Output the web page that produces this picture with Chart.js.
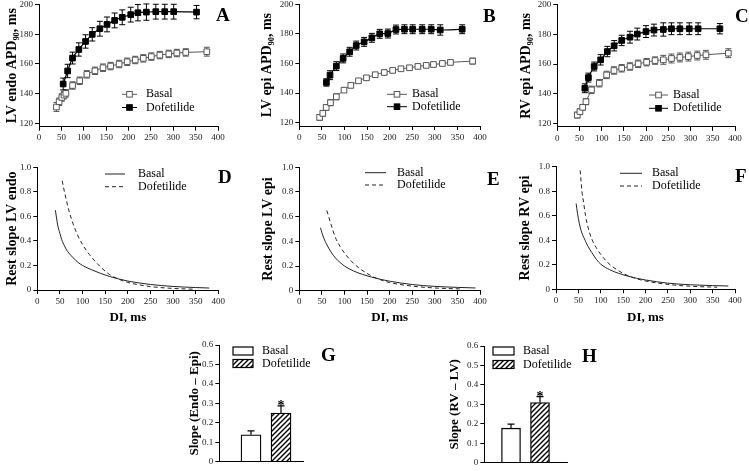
<!DOCTYPE html>
<html><head><meta charset="utf-8">
<script src="https://cdn.jsdelivr.net/npm/chart.js@4.4.1/dist/chart.umd.min.js"></script>
<style>
html,body{margin:0;padding:0;background:#fff}
body{width:749px;height:471px;position:relative;overflow:hidden}
canvas{position:absolute}
</style></head>
<body>
<canvas id="cA"></canvas><canvas id="cB"></canvas><canvas id="cC"></canvas>
<canvas id="cD"></canvas><canvas id="cE"></canvas><canvas id="cF"></canvas>
<canvas id="cG"></canvas><canvas id="cH"></canvas>
<script>
// ================= DATA =================
const seriesNames = ['Basal', 'Dofetilide'];
const diTicks    = [0, 50, 100, 150, 200, 250, 300, 350, 400];
const apdTicks   = [120, 140, 160, 180, 200];
const slopeTicks = [0, 0.2, 0.4, 0.6, 0.8, 1.0];
const barTicks   = [0, 0.1, 0.2, 0.3, 0.4, 0.5, 0.6];

// Panel A: LV endo APD90 (ms) vs DI (ms)
const A_basal_di  = [39,45,51,56,60,75,91,107,125,143,160,179,197,215,233,251,270,290,308,328,375];
const A_basal_apd = [131,134.5,137.4,139,140.2,145.5,148.7,153,155.4,157.5,158.6,160,161.5,162.7,163.8,165,166,166.8,167.4,167.8,168.3];
const A_basal_sem = [3,2.5,2.5,2.5,2.5,2.5,2.5,2.5,2.5,2.5,2.5,2.5,2.5,2.5,2.5,2.5,2.5,2.5,2.5,2.5,3];
const A_dof_di  = [54,64,75,89,104,119,136,152,169,186,205,221,240,261,281,301,352];
const A_dof_apd = [146.5,155.3,164,169.8,175.2,180,183.8,186.7,189.4,191.5,193.3,194.6,195,195.3,195.3,195.3,195];
const A_dof_sem = [4,4.5,4,4.5,4.5,4.5,5,5,5,5,5,5.5,5.5,5,5,5,4.5];

// Panel B: LV epi
const B_basal_di  = [45,52,59.5,69,82,99,114,131,148.7,168,188,206.7,225,244,262.5,281,297,316.7,334.6,383.6];
const B_basal_apd = [123.6,126.3,130.3,133.5,137.5,142,145.2,148.3,150.3,152.4,153.9,155.3,156.4,157.1,158,158.7,159.3,160,160.7,161.6];
const B_basal_sem = [2,2,2,2,2,1.5,1.5,1.5,1.5,1.5,1.5,1.5,1.5,1.5,1.5,1.5,1.5,1.5,1.5,2];
const B_dof_di  = [60,68,82,97,111.5,126,143.5,160.6,178,196,214,232.7,251,272,292,312,360.6];
const B_dof_apd = [147.2,152.1,158.2,163.4,167.9,172.1,174.6,177.3,180,180.2,182.9,183.1,183.1,183.1,183.1,182.6,183.1];
const B_dof_sem = [2.5,3,3,3,3,3,3,3,3,3,3,3,3,3,3,3.5,3];

// Panel C: RV epi
const C_basal_di  = [45,51,57,64.5,77,94.6,111,127.6,145,163.6,182,201,220,238.6,257,276,295,315,334.6,385];
const C_basal_apd = [125.6,127.9,130.8,134.6,142.6,147.1,152.7,155.7,157.2,158.4,160.2,161.3,162.4,162.9,163.8,164.5,165.1,165.8,166.3,167.4];
const C_basal_sem = [2,2,2,2,2.5,2.5,2.5,2.5,2.5,2.5,2.5,2.5,2.5,3,3,3,3,3,3,3];
const C_dof_di  = [62,70,83,97.6,112.6,128,145,163.6,180,199.6,217.6,238.6,257,276,297,317,366];
const C_dof_apd = [143.7,150.9,158.4,162.9,168.5,172.4,176,178.2,180.3,182,183,183.4,183.9,183.9,183.9,183.9,183.9];
const C_dof_sem = [3,3,3,3.5,3.5,3.5,3.5,4,4,4,4,4.5,4,4,4,4,3.5];

// Panel D: restitution slope LV endo
const D_basal_di = [40,45,50,54,60,65,70,80,90,100,120,140,160,180,200,250,300,350,380];
const D_basal_s  = [0.65,0.53,0.46,0.41,0.36,0.325,0.30,0.26,0.225,0.20,0.165,0.135,0.11,0.09,0.073,0.045,0.029,0.02,0.016];
const D_dof_di = [55,60,65,70,80,90,100,115,130,145,160,180,200,250,300,350];
const D_dof_s  = [0.89,0.80,0.72,0.645,0.53,0.44,0.37,0.29,0.225,0.17,0.125,0.088,0.062,0.028,0.013,0.006];

// Panel E: restitution slope LV epi
const E_basal_di = [47,50,55,60,70,80,90,100,120,140,160,180,200,250,300,350,390];
const E_basal_s  = [0.51,0.47,0.42,0.38,0.315,0.265,0.23,0.2,0.16,0.132,0.11,0.092,0.077,0.05,0.035,0.027,0.022];
const E_dof_di = [61,65,70,80,90,100,115,130,150,165,180,200,250,300,360];
const E_dof_s  = [0.65,0.6,0.54,0.43,0.36,0.305,0.24,0.19,0.14,0.11,0.088,0.066,0.037,0.022,0.014];

// Panel F: restitution slope RV epi
const F_basal_di = [45,48,52,56,60,65,70,80,90,100,120,140,160,180,200,250,300,350,385];
const F_basal_s  = [0.70,0.62,0.54,0.48,0.44,0.40,0.36,0.30,0.245,0.205,0.16,0.13,0.108,0.09,0.076,0.05,0.037,0.03,0.027];
const F_dof_di = [54,56,58,62,66,72,80,90,100,115,130,150,175,200,250,300,360];
const F_dof_s  = [0.97,0.88,0.80,0.70,0.60,0.50,0.41,0.34,0.285,0.22,0.175,0.13,0.092,0.068,0.04,0.025,0.017];

// Panel G: slope (Endo - Epi); Panel H: slope (RV - LV)
const G_mean = [0.138, 0.25];
const G_sem  = [0.02, 0.037];
const G_sig  = ['', '*'];
const H_mean = [0.177, 0.309];
const H_sem  = [0.021, 0.03];
const H_sig  = ['', '*'];

// ================= HELPERS =================
const FONT = "'Liberation Serif','Times New Roman',Times,serif";
const pts = (xs, ys) => xs.map((x, i) => ({x: x, y: ys[i]}));

function hatchPattern() {
  const p = document.createElement('canvas'); p.width = 5; p.height = 5;
  const c = p.getContext('2d');
  c.fillStyle = '#fff'; c.fillRect(0, 0, 5, 5);
  c.strokeStyle = '#000'; c.lineWidth = 1.4; c.beginPath();
  c.moveTo(0, 5); c.lineTo(5, 0); c.moveTo(-1, 1); c.lineTo(1, -1); c.moveTo(4, 6); c.lineTo(6, 4);
  c.stroke();
  return c.createPattern(p, 'repeat');
}
const HATCH = hatchPattern();

const decor = {
  id: 'decor',
  beforeDatasetsDraw(chart) {
    const o = chart.options.plugins.decor, ctx = chart.ctx, ys = chart.scales.y;
    if (chart.config.type !== 'line') return;
    chart.data.datasets.forEach((ds, i) => {
      if (!ds.sem) return;
      const meta = chart.getDatasetMeta(i);
      ctx.save(); ctx.strokeStyle = ds.borderColor; ctx.lineWidth = 1;
      meta.data.forEach((el, j) => {
        const v = ds.data[j].y, e = ds.sem[j];
        const y1 = ys.getPixelForValue(v + e), y2 = ys.getPixelForValue(v - e);
        ctx.beginPath();
        ctx.moveTo(el.x, y1); ctx.lineTo(el.x, y2);
        ctx.moveTo(el.x - o.cap, y1); ctx.lineTo(el.x + o.cap, y1);
        ctx.moveTo(el.x - o.cap, y2); ctx.lineTo(el.x + o.cap, y2);
        ctx.stroke();
      });
      ctx.restore();
    });
  },
  afterDatasetsDraw(chart) {
    const o = chart.options.plugins.decor, ctx = chart.ctx, ys = chart.scales.y;
    const X = v => v - o.ox, Y = v => v - o.oy;
    let items;
    if (chart.config.type === 'bar') {
      const ds = chart.data.datasets[0];
      const meta = chart.getDatasetMeta(0);
      meta.data.forEach((el, j) => {
        const v = ds.data[j].y, top = ys.getPixelForValue(v + ds.sem[j]);
        ctx.save(); ctx.strokeStyle = '#000'; ctx.lineWidth = 1.2;
        ctx.beginPath(); ctx.moveTo(el.x, el.y); ctx.lineTo(el.x, top);
        ctx.moveTo(el.x - o.cap, top); ctx.lineTo(el.x + o.cap, top); ctx.stroke();
        if (ds.sig[j]) {
          ctx.fillStyle = '#000'; ctx.font = 'bold 14px ' + FONT;
          ctx.textAlign = 'center'; ctx.textBaseline = 'alphabetic';
          ctx.fillText(ds.sig[j], el.x, top + 4);
        }
        ctx.restore();
      });
      items = seriesNames.map((n, i) => ({text: n, fill: ds.backgroundColor[i]}));
    } else {
      items = chart.data.datasets.map(ds => ({text: ds.label, color: ds.borderColor, fill: ds.pointBackgroundColor, dash: ds.borderDash}));
    }
    const L = o.legend;
    ctx.save();
    ctx.font = '12px ' + FONT; ctx.textAlign = 'left'; ctx.textBaseline = 'middle';
    items.forEach((it, k) => {
      const y = Y(L.ys[k]);
      if (L.kind === 'box') {
        const h = L.bh;
        ctx.fillStyle = it.fill; ctx.fillRect(X(L.x1), y - h / 2, L.x2 - L.x1, h);
        ctx.strokeStyle = '#000'; ctx.lineWidth = 1.2; ctx.strokeRect(X(L.x1), y - h / 2, L.x2 - L.x1, h);
      } else {
        ctx.strokeStyle = it.color; ctx.lineWidth = 1; ctx.setLineDash(it.dash || []);
        ctx.beginPath(); ctx.moveTo(X(L.x1), y); ctx.lineTo(X(L.x2), y); ctx.stroke();
        ctx.setLineDash([]);
        if (L.kind === 'marker') {
          const s = 5.6, mx = X((L.x1 + L.x2) / 2);
          ctx.fillStyle = it.fill; ctx.fillRect(mx - s / 2, y - s / 2, s, s);
          ctx.strokeStyle = it.color; ctx.strokeRect(mx - s / 2, y - s / 2, s, s);
        }
      }
      ctx.fillStyle = '#000'; ctx.fillText(it.text, X(L.tx), y);
    });
    ctx.font = 'bold 19px ' + FONT; ctx.fillStyle = '#000';
    ctx.fillText(o.letter.text, X(o.letter.x), Y(o.letter.y));
    ctx.restore();
  }
};

function build(id, geo, type, datasets, opt) {
  const lh = opt.yTitleSize * 1.2;
  const cx = Math.round(geo.titleX - lh / 2);
  const cy = Math.floor(geo.t - 9);
  const cb = geo.xTitleY ? Math.round(geo.xTitleY + 13 * 1.2 / 2) : Math.round(geo.b + geo.hx);
  const cw = Math.round(geo.right - cx), ch = cb - cy;
  const cv = document.getElementById(id);
  cv.style.left = cx + 'px'; cv.style.top = cy + 'px';
  cv.width = cw; cv.height = ch; cv.style.width = cw + 'px'; cv.style.height = ch + 'px';
  const padT = geo.t - cy, padR = cw - (geo.r - cx), yW = geo.l - cx, xH = ch - (geo.b - cy);
  const tickFont = {family: FONT, size: 9};
  const fmt = opt.yFmt || (v => String(v));
  new Chart(cv, {
    type: type,
    data: {datasets: datasets},
    plugins: [decor],
    options: {
      responsive: false, animation: false, events: [],
      layout: {padding: {left: 0, top: padT, right: padR, bottom: 0}},
      plugins: {
        legend: {display: false}, tooltip: {enabled: false},
        decor: Object.assign({ox: cx, oy: cy}, opt.decor)
      },
      scales: {
        x: {
          type: 'linear', min: opt.xmin, max: opt.xmax, offset: false,
          afterBuildTicks: s => { s.ticks = opt.xTicks ? opt.xTicks.map(v => ({value: v})) : []; },
          afterFit: s => { s.height = xH; },
          grid: {drawOnChartArea: false, drawTicks: !!opt.xTicks, tickLength: 4, color: '#000', lineWidth: 1},
          border: {display: true, color: '#000', width: 1},
          ticks: {display: !!opt.xTicks, font: tickFont, color: '#222', padding: 2, maxRotation: 0, autoSkip: false},
          title: opt.xTitle ? {display: true, text: opt.xTitle, font: {family: FONT, size: 13, weight: 'bold'}, color: '#000', padding: 0} : {display: false}
        },
        y: {
          type: 'linear', min: opt.ymin, max: opt.ymax,
          afterBuildTicks: s => { s.ticks = opt.yTicks.map(v => ({value: v})); },
          afterFit: s => { s.width = yW; },
          grid: {drawOnChartArea: false, drawTicks: true, tickLength: 4, color: '#000', lineWidth: 1},
          border: {display: true, color: '#000', width: 1},
          ticks: {font: tickFont, color: '#222', padding: 2, callback: v => fmt(v)},
          title: {display: true, text: opt.yTitle, font: {family: FONT, size: opt.yTitleSize, weight: 'bold'}, color: '#000', padding: 0}
        }
      }
    }
  });
}

const slopeFmt = v => (v === 0 ? '0' : v.toFixed(1));

function apdSets(bx, by, bs, dx, dy, dsem) {
  return [
    {label: seriesNames[0], data: pts(bx, by), sem: bs, borderColor: '#555', borderWidth: 1,
     pointStyle: 'rect', pointRadius: 4, pointBackgroundColor: '#fff', pointBorderColor: '#555', pointBorderWidth: 1,
     tension: 0.4, cubicInterpolationMode: 'monotone'},
    {label: seriesNames[1], data: pts(dx, dy), sem: dsem, borderColor: '#000', borderWidth: 1.2,
     pointStyle: 'rect', pointRadius: 4, pointBackgroundColor: '#000', pointBorderColor: '#000', pointBorderWidth: 1,
     tension: 0.4, cubicInterpolationMode: 'monotone'}
  ];
}
function slopeSets(bx, by, dx, dy) {
  return [
    {label: seriesNames[0], data: pts(bx, by), borderColor: '#222', borderWidth: 1, pointRadius: 0,
     tension: 0.4, cubicInterpolationMode: 'monotone', borderDash: []},
    {label: seriesNames[1], data: pts(dx, dy), borderColor: '#222', borderWidth: 1, pointRadius: 0,
     tension: 0.4, cubicInterpolationMode: 'monotone', borderDash: [4, 3]}
  ];
}
function barSet(mean, sem, sig, thick) {
  return [{label: 'Slope', data: pts([1, 2], mean), sem: sem, sig: sig,
           backgroundColor: ['#fff', HATCH], borderColor: '#000', borderWidth: 1.3, barThickness: thick}];
}

// ================= PANELS =================
build('cA', {l: 39, r: 218, t: 4.7, b: 126.7, titleX: 12, right: 240, hx: 20}, 'line',
  apdSets(A_basal_di, A_basal_apd, A_basal_sem, A_dof_di, A_dof_apd, A_dof_sem),
  {xmin: 0, xmax: 400, xTicks: diTicks, ymin: 117.7, ymax: 200, yTicks: apdTicks,
   yTitle: 'LV endo APD₉₀, ms', yTitleSize: 14,
   decor: {cap: 3, legend: {kind: 'marker', x1: 122, x2: 137, ys: [94.3, 107.5], tx: 146}, letter: {text: 'A', x: 216, y: 16}}});

build('cB', {l: 299.3, r: 480, t: 4.2, b: 126, titleX: 267, right: 505, hx: 20}, 'line',
  apdSets(B_basal_di, B_basal_apd, B_basal_sem, B_dof_di, B_dof_apd, B_dof_sem),
  {xmin: 0, xmax: 400, xTicks: diTicks, ymin: 117.8, ymax: 200, yTicks: apdTicks,
   yTitle: 'LV epi APD₉₀, ms', yTitleSize: 14,
   decor: {cap: 3, legend: {kind: 'marker', x1: 387, x2: 407, ys: [94.3, 106.7], tx: 412}, letter: {text: 'B', x: 483, y: 17}}});

build('cC', {l: 557.3, r: 735, t: 4.9, b: 126.9, titleX: 526, right: 749, hx: 20}, 'line',
  apdSets(C_basal_di, C_basal_apd, C_basal_sem, C_dof_di, C_dof_apd, C_dof_sem),
  {xmin: 0, xmax: 400, xTicks: diTicks, ymin: 117.6, ymax: 200, yTicks: apdTicks,
   yTitle: 'RV epi APD₉₀, ms', yTitleSize: 14,
   decor: {cap: 3, legend: {kind: 'marker', x1: 649, x2: 668, ys: [95, 108.3], tx: 673}, letter: {text: 'C', x: 735, y: 17}}});

build('cD', {l: 37.3, r: 218.3, t: 167.3, b: 290, titleX: 12, right: 240, xTitleY: 317}, 'line',
  slopeSets(D_basal_di, D_basal_s, D_dof_di, D_dof_s),
  {xmin: 0, xmax: 400, xTicks: diTicks, ymin: 0, ymax: 1, yTicks: slopeTicks, yFmt: slopeFmt,
   xTitle: 'DI, ms', yTitle: 'Rest slope LV endo', yTitleSize: 14,
   decor: {cap: 0, legend: {kind: 'line', x1: 105, x2: 125, ys: [174, 186.7], tx: 138}, letter: {text: 'D', x: 218, y: 178}}});

build('cE', {l: 299.3, r: 480, t: 167.3, b: 290.7, titleX: 268, right: 505, xTitleY: 317}, 'line',
  slopeSets(E_basal_di, E_basal_s, E_dof_di, E_dof_s),
  {xmin: 0, xmax: 400, xTicks: diTicks, ymin: 0, ymax: 1, yTicks: slopeTicks, yFmt: slopeFmt,
   xTitle: 'DI, ms', yTitle: 'Rest slope LV epi', yTitleSize: 14,
   decor: {cap: 0, legend: {kind: 'line', x1: 365, x2: 386, ys: [172.7, 185], tx: 397}, letter: {text: 'E', x: 487, y: 180}}});

build('cF', {l: 556, r: 735, t: 166.7, b: 289.3, titleX: 525, right: 749, xTitleY: 317}, 'line',
  slopeSets(F_basal_di, F_basal_s, F_dof_di, F_dof_s),
  {xmin: 0, xmax: 400, xTicks: diTicks, ymin: 0, ymax: 1, yTicks: slopeTicks, yFmt: slopeFmt,
   xTitle: 'DI, ms', yTitle: 'Rest slope RV epi', yTitleSize: 14,
   decor: {cap: 0, legend: {kind: 'line', x1: 620, x2: 642, ys: [173.3, 186], tx: 652}, letter: {text: 'F', x: 735, y: 177}}});

build('cG', {l: 219.3, r: 303.3, t: 345, b: 465, titleX: 195, right: 345, hx: 4}, 'bar',
  barSet(G_mean, G_sem, G_sig, 20),
  {xmin: -0.057, xmax: 2.743, xTicks: null, ymin: 0, ymax: 0.6, yTicks: barTicks, yFmt: slopeFmt,
   yTitle: 'Slope (Endo – Epi)', yTitleSize: 13,
   decor: {cap: 3.5, legend: {kind: 'box', x1: 233, x2: 253, bh: 8, ys: [351, 363.5], tx: 262}, letter: {text: 'G', x: 321, y: 356}}});

build('cH', {l: 484.3, r: 567, t: 346, b: 466, titleX: 455, right: 605, hx: 4}, 'bar',
  barSet(H_mean, H_sem, H_sig, 19),
  {xmin: 0.079, xmax: 2.931, xTicks: null, ymin: 0, ymax: 0.6, yTicks: barTicks, yFmt: slopeFmt,
   yTitle: 'Slope (RV – LV)', yTitleSize: 13,
   decor: {cap: 3.5, legend: {kind: 'box', x1: 493, x2: 514, bh: 8, ys: [351, 364.5], tx: 523}, letter: {text: 'H', x: 582, y: 357.5}}});
</script>
</body></html>
